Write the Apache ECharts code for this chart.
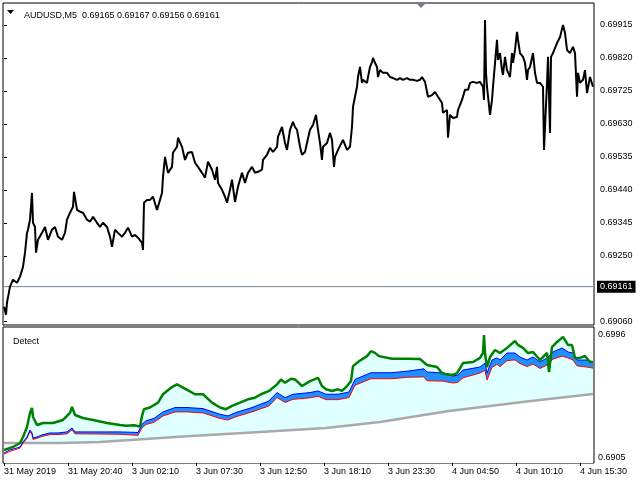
<!DOCTYPE html>
<html>
<head>
<meta charset="utf-8">
<script src="https://cdn.jsdelivr.net/npm/echarts@6/dist/echarts.min.js"></script>
<style>html,body{margin:0;padding:0;background:#fff}#c{width:640px;height:480px}</style>
</head>
<body>
<div id="c"></div>
<script>
// ---- data ----
const symbolName = "AUDUSD,M5";
const lastBar = [0.69165, 0.69167, 0.69156, 0.69161];
const bidPrice = 0.69161;
const priceTicks = [0.69060, 0.69250, 0.69345, 0.69440, 0.69535, 0.69630, 0.69725, 0.69820, 0.69915];
const detectTicks = [0.6905, 0.6996];
const timeLabels = ["31 May 2019","31 May 20:40","3 Jun 02:10","3 Jun 07:30","3 Jun 12:50","3 Jun 18:10","3 Jun 23:30","4 Jun 04:50","4 Jun 10:10","4 Jun 15:30"];
const timeBars = [0,64,128,192,256,320,384,448,512,576];
const barRange = [-1, 590];

const priceBars = [0,2,3,6,9,13,16,19,21,23,24,26,28,29,31,32,34,38,41,44,48,51,54,58,61,63,66,69,70,73,76,79,83,86,89,93,96,99,103,106,108,111,114,118,121,124,128,131,134,138,139,140,143,146,149,153,156,158,159,161,164,168,169,173,174,178,181,184,188,191,194,198,201,204,208,211,213,214,218,221,223,226,228,231,234,238,241,244,248,251,254,258,259,263,266,269,273,274,278,281,283,286,289,291,293,296,298,301,303,306,309,312,314,316,318,319,323,326,328,330,331,334,339,343,346,348,349,351,353,354,356,358,359,363,364,366,368,369,371,373,374,376,379,383,386,389,393,396,399,403,406,409,413,416,418,421,423,424,428,431,434,438,439,443,444,446,449,453,454,458,461,464,466,469,473,476,479,480,481,482,483,486,488,489,493,494,496,498,499,501,503,506,508,509,511,513,514,516,519,521,523,524,526,529,531,533,536,539,540,543,544,546,547,549,553,556,559,561,563,566,569,571,573,574,576,579,581,583,586,589];
const priceVals = [0.69103,0.69080,0.69115,0.69161,0.69181,0.69172,0.69190,0.69218,0.69259,0.69316,0.69325,0.69354,0.69431,0.69345,0.69333,0.69259,0.69296,0.69316,0.69333,0.69296,0.69325,0.69333,0.69305,0.69296,0.69316,0.69354,0.69374,0.69391,0.69434,0.69382,0.69377,0.69374,0.69354,0.69348,0.69362,0.69345,0.69333,0.69345,0.69333,0.69305,0.69276,0.69325,0.69316,0.69305,0.69316,0.69331,0.69305,0.69310,0.69302,0.69287,0.69267,0.69403,0.69411,0.69411,0.69420,0.69382,0.69411,0.69431,0.69477,0.69535,0.69489,0.69506,0.69547,0.69564,0.69590,0.69564,0.69526,0.69547,0.69549,0.69518,0.69506,0.69489,0.69475,0.69521,0.69498,0.69469,0.69506,0.69460,0.69440,0.69420,0.69403,0.69440,0.69469,0.69405,0.69449,0.69489,0.69460,0.69489,0.69506,0.69489,0.69492,0.69498,0.69526,0.69541,0.69561,0.69549,0.69564,0.69593,0.69621,0.69575,0.69555,0.69613,0.69636,0.69621,0.69613,0.69564,0.69541,0.69549,0.69575,0.69613,0.69627,0.69656,0.69613,0.69575,0.69526,0.69564,0.69575,0.69604,0.69584,0.69506,0.69535,0.69555,0.69584,0.69555,0.69564,0.69621,0.69679,0.69708,0.69737,0.69765,0.69794,0.69748,0.69757,0.69748,0.69765,0.69794,0.69808,0.69820,0.69806,0.69794,0.69765,0.69785,0.69777,0.69777,0.69765,0.69762,0.69757,0.69762,0.69757,0.69762,0.69757,0.69757,0.69754,0.69757,0.69765,0.69751,0.69748,0.69708,0.69713,0.69722,0.69708,0.69690,0.69662,0.69670,0.69590,0.69656,0.69647,0.69650,0.69670,0.69699,0.69728,0.69728,0.69748,0.69751,0.69748,0.69751,0.69737,0.69699,0.69929,0.69777,0.69737,0.69656,0.69699,0.69737,0.69872,0.69814,0.69834,0.69785,0.69771,0.69823,0.69785,0.69765,0.69834,0.69806,0.69843,0.69895,0.69872,0.69834,0.69823,0.69806,0.69757,0.69785,0.69794,0.69834,0.69777,0.69748,0.69748,0.69737,0.69555,0.69748,0.69823,0.69604,0.69823,0.69834,0.69863,0.69880,0.69915,0.69892,0.69843,0.69834,0.69852,0.69834,0.69708,0.69777,0.69748,0.69757,0.69785,0.69719,0.69765,0.69737];

const greenBars = [0,9,16,19,23,26,28,29,33,39,49,59,66,68,71,79,89,103,116,122,130,136,138,140,146,154,159,167,173,179,185,191,199,208,216,222,228,236,244,251,257,265,273,277,281,287,291,298,306,314,318,322,328,334,338,343,347,349,355,363,367,371,375,388,404,416,423,433,438,441,449,453,459,469,476,479,480,481,483,486,491,496,503,511,514,519,524,529,536,543,545,548,553,559,564,568,571,576,581,586,589];
const greenVals = [0.69137,0.69157,0.69184,0.69224,0.69291,0.69385,0.69418,0.69358,0.69304,0.69318,0.69318,0.69338,0.69385,0.69425,0.69371,0.69351,0.69338,0.69318,0.69304,0.69299,0.69303,0.69294,0.69365,0.69410,0.69421,0.69454,0.69510,0.69554,0.69576,0.69554,0.69532,0.69510,0.69510,0.69454,0.69421,0.69410,0.69432,0.69454,0.69476,0.69487,0.69510,0.69532,0.69576,0.69609,0.69587,0.69614,0.69609,0.69565,0.69598,0.69620,0.69565,0.69543,0.69532,0.69543,0.69532,0.69565,0.69598,0.69698,0.69731,0.69765,0.69798,0.69787,0.69765,0.69747,0.69747,0.69746,0.69706,0.69692,0.69652,0.69646,0.69639,0.69652,0.69719,0.69726,0.69753,0.69786,0.69906,0.69786,0.69692,0.69759,0.69806,0.69786,0.69820,0.69866,0.69840,0.69820,0.69786,0.69793,0.69739,0.69786,0.69659,0.69826,0.69860,0.69893,0.69840,0.69840,0.69753,0.69753,0.69766,0.69726,0.69726];

const bandBars = [0,6,16,19,23,26,28,29,33,38,46,54,63,68,71,96,116,118,134,138,142,150,159,171,183,199,216,224,232,248,265,273,281,289,306,314,322,334,345,351,359,367,388,404,420,423,439,449,454,459,476,481,483,488,493,496,503,511,516,523,529,536,543,549,558,564,569,573,583,589];
const blueVals = [0.69117,0.69137,0.69157,0.69191,0.69224,0.69271,0.69251,0.69217,0.69224,0.69238,0.69251,0.69251,0.69258,0.69284,0.69258,0.69258,0.69258,0.69259,0.69254,0.69310,0.69332,0.69348,0.69392,0.69421,0.69421,0.69414,0.69376,0.69365,0.69388,0.69421,0.69465,0.69521,0.69487,0.69510,0.69521,0.69532,0.69510,0.69510,0.69525,0.69609,0.69632,0.69654,0.69654,0.69665,0.69680,0.69659,0.69652,0.69632,0.69639,0.69672,0.69692,0.69719,0.69652,0.69739,0.69753,0.69739,0.69786,0.69786,0.69759,0.69739,0.69759,0.69726,0.69753,0.69793,0.69820,0.69793,0.69786,0.69739,0.69739,0.69726];
const redVals = [0.69110,0.69128,0.69150,0.69183,0.69215,0.69262,0.69240,0.69208,0.69215,0.69228,0.69240,0.69240,0.69245,0.69272,0.69245,0.69244,0.69242,0.69240,0.69235,0.69285,0.69308,0.69322,0.69365,0.69392,0.69392,0.69385,0.69348,0.69338,0.69360,0.69392,0.69432,0.69488,0.69455,0.69476,0.69486,0.69496,0.69474,0.69474,0.69488,0.69570,0.69592,0.69614,0.69614,0.69624,0.69626,0.69600,0.69598,0.69585,0.69590,0.69620,0.69652,0.69670,0.69605,0.69690,0.69710,0.69695,0.69735,0.69740,0.69715,0.69695,0.69712,0.69683,0.69705,0.69745,0.69765,0.69753,0.69739,0.69700,0.69692,0.69685];

const grayBars = [0,56,96,179,256,322,376,445,527,589];
const grayVals = [0.69184,0.69184,0.69191,0.69227,0.69258,0.69284,0.69324,0.69398,0.69465,0.69512];

// ---- chart ----
const pair = (xs, ys) => xs.slice(0, Math.min(xs.length, ys.length)).map((x, i) => [x, ys[i]]);
const FONT = "Liberation Sans";
const chart = echarts.init(document.getElementById('c'), null, {renderer: 'canvas'});

function areaSeries(xs, ys, fill) {
  return {type: 'line', xAxisIndex: 1, yAxisIndex: 1, data: pair(xs, ys), symbol: 'none', silent: true,
    lineStyle: {width: 0, opacity: 0}, areaStyle: {color: fill, opacity: 1, origin: 'start'}};
}
function lineSeries(xs, ys, color, w) {
  return {type: 'line', xAxisIndex: 1, yAxisIndex: 1, data: pair(xs, ys), symbol: 'none', silent: true,
    lineStyle: {color: color, width: w}};
}

chart.setOption({
  animation: false,
  backgroundColor: '#fff',
  textStyle: {fontFamily: FONT},
  title: [
    {text: symbolName + '  ' + lastBar.map(v => v.toFixed(5)).join(' '), left: 19, top: 6,
     textStyle: {fontSize: 9, fontWeight: 'normal', color: '#000', fontFamily: FONT}},
    {text: 'Detect', left: 8, top: 332,
     textStyle: {fontSize: 9, fontWeight: 'normal', color: '#000', fontFamily: FONT}}
  ],
  graphic: [
    {type: 'polygon', shape: {points: [[7, 10], [14, 10], [10.5, 14]]}, style: {fill: '#000'}},
    {type: 'polygon', shape: {points: [[417, 4], [425, 4], [421, 8]]}, style: {fill: '#6e7f91'}}
  ],
  grid: [
    {left: 3, right: 46, top: 3, height: 322, show: true, borderColor: '#000', borderWidth: 1, backgroundColor: '#fff'},
    {left: 3, right: 46, top: 327, height: 136, show: true, borderColor: '#000', borderWidth: 1, backgroundColor: '#fff'}
  ],
  xAxis: [
    {type: 'value', gridIndex: 0, min: barRange[0], max: barRange[1], axisLine: {show: false}, axisTick: {show: false},
     axisLabel: {show: false}, splitLine: {show: false}},
    {type: 'value', gridIndex: 1, min: barRange[0], max: barRange[1], position: 'bottom', axisLine: {show: false},
     axisTick: {show: true, customValues: timeBars, length: 3, lineStyle: {color: '#000'}},
     axisLabel: {customValues: timeBars, formatter: v => timeLabels[timeBars.indexOf(v)] || '', align: 'left',
       fontSize: 9, color: '#000', margin: 4, fontFamily: FONT},
     splitLine: {show: false}}
  ],
  yAxis: [
    {type: 'value', gridIndex: 0, position: 'right', min: 0.690505, max: 0.699783, axisLine: {show: false},
     axisTick: {show: true, customValues: priceTicks, length: 3, lineStyle: {color: '#000'}},
     axisLabel: {customValues: priceTicks, formatter: v => v.toFixed(5), fontSize: 9, color: '#000', margin: 6, fontFamily: FONT},
     splitLine: {show: false}},
    {type: 'value', gridIndex: 1, position: 'right', min: detectTicks[0], max: detectTicks[1], axisLine: {show: false},
     axisTick: {show: false},
     axisLabel: {customValues: detectTicks, margin: 4, color: '#000', fontSize: 9, fontFamily: FONT,
       formatter: v => (Math.abs(v - detectTicks[1]) < 1e-9 ? '{t|' + v.toFixed(4) + '}' : '{b|' + v.toFixed(4) + '}'),
       rich: {t: {padding: [16, 0, 0, 0], fontSize: 9, color: '#000', fontFamily: FONT},
              b: {padding: [0, 0, 10, 0], fontSize: 9, color: '#000', fontFamily: FONT}}},
     splitLine: {show: false}}
  ],
  series: [
    {type: 'line', xAxisIndex: 0, yAxisIndex: 0, data: [[barRange[0], bidPrice], [barRange[1], bidPrice]],
     symbol: 'none', silent: true, z: 1, clip: false,
     lineStyle: {color: '#778899', width: 1},
     endLabel: {show: true, formatter: () => bidPrice.toFixed(5), color: '#fff', backgroundColor: '#000',
       padding: [2, 3, 1, 3], fontSize: 9, fontFamily: FONT, distance: 3}},
    {type: 'line', xAxisIndex: 0, yAxisIndex: 0, data: pair(priceBars, priceVals), symbol: 'none', silent: true, z: 3,
     lineStyle: {color: '#000', width: 2}},
    areaSeries(greenBars, greenVals, '#E0FFFF'),
    areaSeries(bandBars, blueVals, '#1E90FF'),
    areaSeries(bandBars, redVals, '#E0FFFF'),
    areaSeries(grayBars, grayVals, '#FFFFFF'),
    lineSeries(grayBars, grayVals, '#A9A9A9', 2.5),
    lineSeries(bandBars, redVals, '#FF0000', 1),
    lineSeries(bandBars, blueVals, '#0000FF', 1),
    lineSeries(greenBars, greenVals, '#008000', 2.5)
  ]
});
</script>
</body>
</html>
